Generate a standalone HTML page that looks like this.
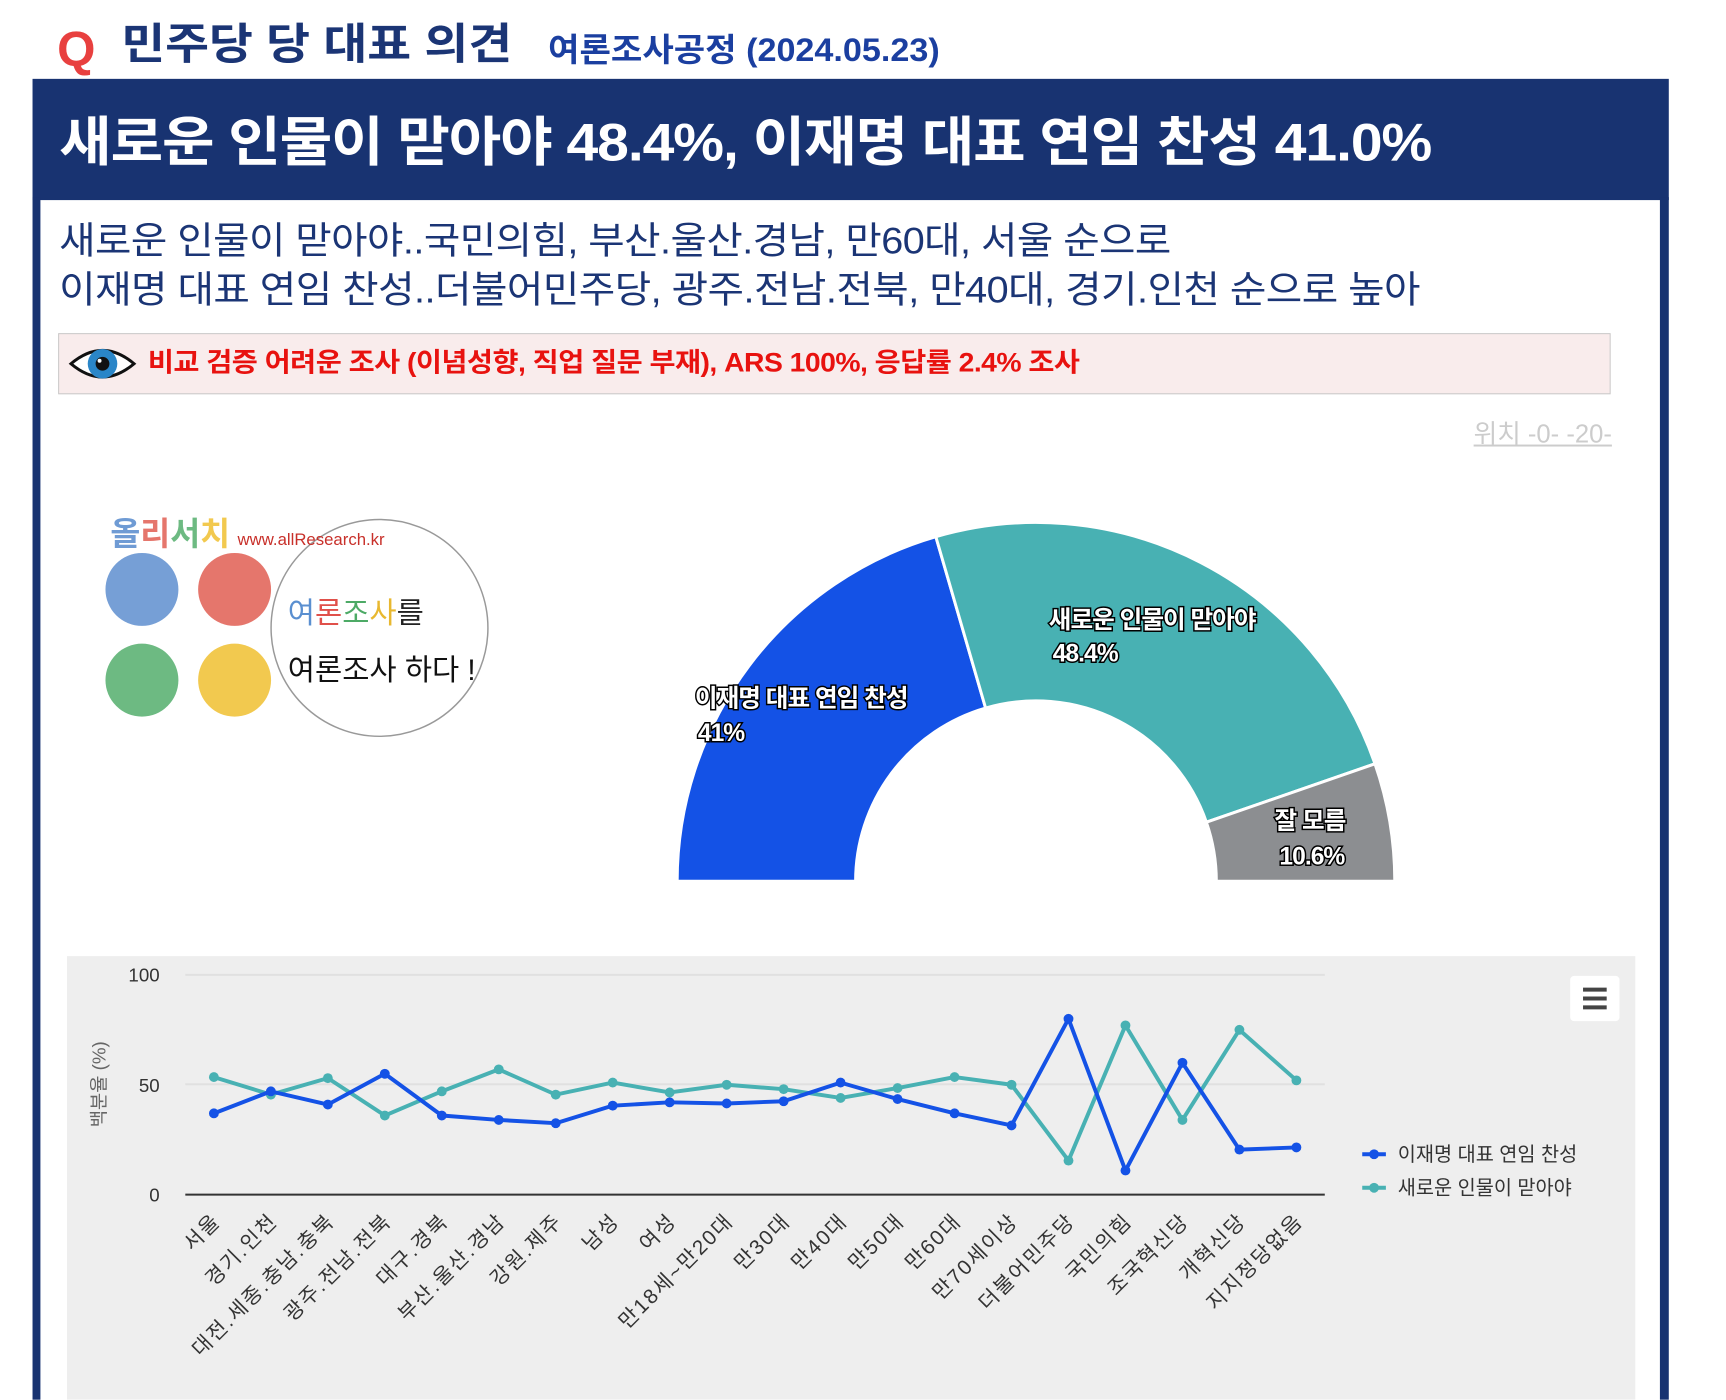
<!DOCTYPE html>
<html><head><meta charset="utf-8">
<style>
html,body{margin:0;padding:0;background:#fff;}
body{width:1726px;height:1373px;position:relative;overflow:hidden;font-family:"Liberation Sans","Noto Sans CJK KR",sans-serif;}
#wrap{position:absolute;left:0;top:0;width:1726px;height:1420px;transform:scale(0.9857);transform-origin:0 0;}
.abs{position:absolute;white-space:nowrap;}
.sx{display:inline-block;transform-origin:0 50%;}
</style></head><body>
<div id="wrap">
<div class="abs" style="left:58px;top:18px;font-size:50px;font-weight:bold;color:#e8403f;line-height:64px;">Q</div>
<div class="abs" style="left:123px;top:16px;font-size:44px;font-weight:bold;color:#1b3575;line-height:60px;"><span class="sx" style="transform:scaleX(1.1)">민주당 당 대표 의견</span></div>
<div class="abs" style="left:556px;top:27px;font-size:33px;font-weight:bold;color:#1b3fa0;line-height:48px;"><span class="sx" style="transform:scaleX(1.05)">여론조사공정 (2024.05.23)</span></div>
<div class="abs" style="left:33px;top:80px;width:1660px;height:123px;background:#183371;"></div>
<div class="abs" style="left:33px;top:200px;width:8px;height:1220px;background:#183371;"></div>
<div class="abs" style="left:1684px;top:200px;width:9px;height:1220px;background:#183371;"></div>
<div class="abs" style="left:60px;top:110px;font-size:54px;font-weight:bold;color:#fff;line-height:70px;letter-spacing:-1px;"><span class="sx" style="transform:scaleX(1.072)">새로운 인물이 맏아야 48.4%, 이재명 대표 연임 찬성 41.0%</span></div>
<div class="abs" style="left:60px;top:220px;font-size:38px;color:#1b3575;line-height:50px;letter-spacing:-0.5px;"><span class="sx" style="transform:scaleX(1.056)">새로운 인물이 맏아야..국민의힘, 부산.울산.경남, 만60대, 서울 순으로</span></div>
<div class="abs" style="left:60px;top:270px;font-size:38px;color:#1b3575;line-height:50px;letter-spacing:-0.5px;"><span class="sx" style="transform:scaleX(1.058)">이재명 대표 연임 찬성..더불어민주당, 광주.전남.전북, 만40대, 경기.인천 순으로 높아</span></div>
<div class="abs" style="left:59px;top:338px;width:1573px;height:60px;background:#f9ecec;border:1px solid #c8c8c8;"></div>
<svg class="abs" style="left:68px;top:344px" width="72" height="50" viewBox="0 0 72 50"><path d="M4 25 Q36 -2 68 25 Q36 52 4 25Z" fill="#fff" stroke="#111" stroke-width="3"/><circle cx="36" cy="25" r="15" fill="#2a86c8"/><circle cx="36" cy="25" r="7" fill="#111"/><circle cx="33" cy="22" r="2" fill="#fff"/></svg>
<div class="abs" style="left:150px;top:349px;font-size:27px;font-weight:bold;color:#e8120f;line-height:38px;letter-spacing:-0.5px;"><span class="sx" style="transform:scaleX(1.064)">비교 검증 어려운 조사 (이념성향, 직업 질문 부재), ARS 100%, 응답률 2.4% 조사</span></div>
<div class="abs" style="left:1495px;top:423px;font-size:26px;color:#ccc;line-height:34px;text-decoration:underline;">위치 -0- -20-</div>

<svg class="abs" style="left:0;top:0" width="1726" height="1420" viewBox="0 0 1726 1420">
<circle cx="385" cy="637" r="110" fill="#fff" stroke="#999" stroke-width="1.5"/>
<circle cx="144" cy="598" r="37" fill="#769fd6"/>
<circle cx="238" cy="598" r="37" fill="#e5766c"/>
<circle cx="144" cy="690" r="37" fill="#6dba82"/>
<circle cx="238" cy="690" r="37" fill="#f2c94f"/>
<text x="112" y="553" font-size="33" font-weight="bold" fill="#6f9bd4" font-family="Liberation Sans,Noto Sans CJK KR,sans-serif">올<tspan fill="#e5766c">리</tspan><tspan fill="#6dba82">서</tspan><tspan fill="#f2c94f">치</tspan></text>
<text x="241" y="553" font-size="17" fill="#c8302a" font-family="Liberation Sans,sans-serif">www.allResearch.kr</text>
<text x="292" y="632" font-size="30" fill="#222" font-family="Liberation Sans,Noto Sans CJK KR,sans-serif"><tspan fill="#5a8fd0">여</tspan><tspan fill="#e0504a">론</tspan><tspan fill="#4daa66">조</tspan><tspan fill="#e8b830">사</tspan>를</text>
<text x="292" y="690" font-size="30" fill="#111" font-family="Liberation Sans,Noto Sans CJK KR,sans-serif">여론조사 하다 !</text>
<path d="M687 894 A364 364 0 0 1 949.4 544.5 L999.9 718.3 A183 183 0 0 0 868 894 Z" fill="#1452e6" stroke="#fff" stroke-width="3" stroke-linejoin="round"/>
<path d="M949.4 544.5 A364 364 0 0 1 1394.9 774.9 L1223.9 834.1 A183 183 0 0 0 999.9 718.3 Z" fill="#48b1b3" stroke="#fff" stroke-width="3" stroke-linejoin="round"/>
<path d="M1394.9 774.9 A364 364 0 0 1 1415 894 L1234 894 A183 183 0 0 0 1223.9 834.1 Z" fill="#8c8e91" stroke="#fff" stroke-width="3" stroke-linejoin="round"/>
<g font-size="25" font-weight="bold" fill="#fff" stroke="#000" stroke-width="3" paint-order="stroke" font-family="Liberation Sans,Noto Sans CJK KR,sans-serif" letter-spacing="-1">
<text x="705" y="717">이재명 대표 연임 찬성</text><text x="708" y="752">41%</text>
<text x="1064" y="637">새로운 인물이 맏아야</text><text x="1068" y="671">48.4%</text>
<text x="1293" y="841">잘 모름</text><text x="1298" y="877">10.6%</text>
</g>
<rect x="68" y="970" width="1591" height="450" fill="#eeeeee"/>
<line x1="188" y1="989" x2="1344" y2="989" stroke="#e0e0e0" stroke-width="2"/>
<line x1="188" y1="1100" x2="1344" y2="1100" stroke="#e0e0e0" stroke-width="2"/>
<line x1="188" y1="1212" x2="1344" y2="1212" stroke="#333" stroke-width="2"/>
<g font-size="19" fill="#333" text-anchor="end" font-family="Liberation Sans,sans-serif">
<text x="162" y="996">100</text><text x="162" y="1108">50</text><text x="162" y="1219">0</text></g>
<text transform="translate(107,1100) rotate(-90)" text-anchor="middle" font-size="19" fill="#666" font-family="Liberation Sans,Noto Sans CJK KR,sans-serif">백분율 (%)</text>
<rect x="1593" y="990" width="50" height="46" rx="4" fill="#fff"/>
<g stroke="#444" stroke-width="4"><line x1="1606" y1="1004" x2="1630" y2="1004"/><line x1="1606" y1="1013" x2="1630" y2="1013"/><line x1="1606" y1="1022" x2="1630" y2="1022"/></g>
<g id="lines"></g>
<g font-size="20" fill="#333" font-family="Liberation Sans,Noto Sans CJK KR,sans-serif">
<line x1="1382" y1="1171" x2="1406" y2="1171" stroke="#1452e6" stroke-width="4"/><circle cx="1394" cy="1171" r="5" fill="#1452e6"/>
<text x="1418" y="1178">이재명 대표 연임 찬성</text>
<line x1="1382" y1="1205" x2="1406" y2="1205" stroke="#48b1b3" stroke-width="4"/><circle cx="1394" cy="1205" r="5" fill="#48b1b3"/>
<text x="1418" y="1212">새로운 인물이 맏아야</text></g>
</svg>
</div>
<script>
var b=[37,47,41,55,36,34,32.5,40.5,42,41.5,42.5,51,43.5,37,31.5,80,11,60,20.5,21.5];
var t=[53.5,45.5,53,36,47,57,45.5,51,46.5,50,48,44,48.5,53.5,50,15.5,77,34,75,52];
var c=["서울","경기.인천","대전.세종.충남.충북","광주.전남.전북","대구.경북","부산.울산.경남","강원.제주","남성","여성","만18세~만20대","만30대","만40대","만50대","만60대","만70세이상","더불어민주당","국민의힘","조국혁신당","개혁신당","지지정당없음"];
function X(i){return 217+i*57.8;}function Y(v){return 1212-v*2.23;}
var s="";
[[t,"#48b1b3"],[b,"#1452e6"]].forEach(function(p){
var d=p[0].map(function(v,i){return (i?"L":"M")+X(i).toFixed(1)+" "+Y(v).toFixed(1);}).join(" ");
s+='<path d="'+d+'" fill="none" stroke="'+p[1]+'" stroke-width="4" stroke-linejoin="round"/>';
p[0].forEach(function(v,i){s+='<circle cx="'+X(i)+'" cy="'+Y(v)+'" r="5" fill="'+p[1]+'"/>';});});
c.forEach(function(n,i){var x=X(i)+8,y=1240;s+='<text transform="translate('+x+','+y+') rotate(-45)" text-anchor="end" font-size="21" letter-spacing="2" fill="#333" font-family="Liberation Sans,Noto Sans CJK KR,sans-serif">'+n+'</text>';});
document.getElementById("lines").innerHTML=s;
</script>
</body></html>
